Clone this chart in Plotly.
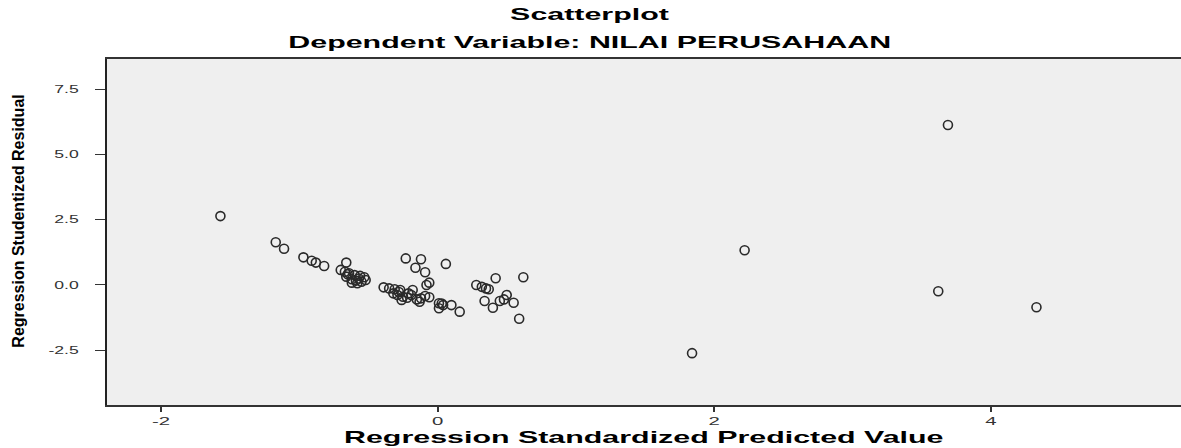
import plotly.graph_objects as go

# Regression standardized predicted value (x) and studentized residual (y)
x_pred = [-1.57, 3.69, 2.22, 1.84, 3.62, 4.33,
          -1.17, -1.11, -0.97, -0.91, -0.88, -0.82, -0.66, -0.70, -0.67, -0.64,
          -0.60, -0.56, -0.53, -0.66, -0.62, -0.59, -0.55, -0.52, -0.58, -0.62,
          -0.57, -0.65, -0.39, -0.23, -0.12, -0.16, -0.09, 0.06, -0.06, -0.08,
          -0.35, -0.31, -0.27, -0.32, -0.29, -0.25, -0.21, -0.26, -0.19, -0.18,
          -0.15, -0.12, -0.09, -0.06, -0.13, -0.28, -0.22, 0.01, 0.04, 0.01,
          0.10, 0.03, 0.16, 0.28, 0.32, 0.35, 0.37, 0.42, 0.62, 0.34, 0.40,
          0.45, 0.50, 0.48, 0.55, 0.59]
y_resid = [2.63, 6.12, 1.32, -2.62, -0.25, -0.86,
           1.63, 1.38, 1.05, 0.92, 0.85, 0.72, 0.85, 0.57, 0.50, 0.44,
           0.37, 0.34, 0.29, 0.31, 0.21, 0.16, 0.12, 0.18, 0.06, 0.08,
           0.24, 0.40, -0.10, 1.01, 0.98, 0.65, 0.48, 0.80, 0.08, -0.01,
           -0.14, -0.17, -0.20, -0.33, -0.39, -0.46, -0.33, -0.58, -0.39, -0.20,
           -0.56, -0.52, -0.43, -0.48, -0.65, -0.28, -0.50, -0.71, -0.78, -0.90,
           -0.78, -0.72, -1.03, -0.01, -0.08, -0.14, -0.17, 0.25, 0.29, -0.62, -0.88,
           -0.62, -0.39, -0.56, -0.69, -1.30]

x_tick_vals = [-2, 0, 2, 4]
x_tick_text = ["-2", "0", "2", "4"]
y_tick_vals = [-2.5, 0.0, 2.5, 5.0, 7.5]
y_tick_text = ["-2.5", "0.0", "2.5", "5.0", "7.5"]

title_1 = "Scatterplot"
title_2 = "Dependent Variable: NILAI PERUSAHAAN"
x_title = "Regression Standardized Predicted Value"
y_title = "Regression Studentized Residual"

FONT = "Liberation Sans, Arial, sans-serif"

fig = go.Figure(go.Scatter(
    x=x_pred, y=y_resid, mode="markers",
    marker=dict(symbol="circle-open", size=9, color="#2a2a2a",
                line=dict(width=1.6, color="#2a2a2a")),
    showlegend=False, hoverinfo="skip"))

fig.update_layout(
    width=1181, height=448,
    margin=dict(l=107, r=0, t=59, b=43, pad=0),
    paper_bgcolor="white", plot_bgcolor="#efefef",
    xaxis=dict(range=[-2.39, 5.375], tickvals=x_tick_vals, ticktext=x_tick_text,
               showgrid=False, zeroline=False, showline=True, linecolor="#333",
               linewidth=2, mirror=True, ticks="outside", ticklen=5, tickwidth=2,
               tickcolor="#333", fixedrange=True,
               tickfont=dict(family=FONT, size=11, color="#333")),
    yaxis=dict(range=[-4.607, 8.65], tickvals=y_tick_vals, ticktext=y_tick_text,
               showgrid=False, zeroline=False, showline=True, linecolor="#222",
               linewidth=2, mirror=False, ticks="outside", ticklen=10, tickwidth=1,
               tickcolor="#333", ticklabelstandoff=14, fixedrange=True,
               tickfont=dict(family=FONT, size=11, color="#333")),
    annotations=[
        dict(text="<b>%s</b>" % title_1, x=0.4497, y=1.128, xref="paper", yref="paper",
             showarrow=False, xanchor="center", yanchor="middle",
             font=dict(family=FONT, size=16, color="black")),
        dict(text="<b>%s</b>" % title_2, x=0.4497, y=1.049, xref="paper", yref="paper",
             showarrow=False, xanchor="center", yanchor="middle",
             font=dict(family=FONT, size=16, color="black")),
        dict(text="<b>%s</b>" % x_title, x=0.5, y=-0.095, xref="paper", yref="paper",
             showarrow=False, xanchor="center", yanchor="middle",
             font=dict(family=FONT, size=16, color="black")),
        dict(text="<b>%s</b>" % y_title, x=-0.0819, y=0.53, xref="paper", yref="paper",
             showarrow=False, xanchor="center", yanchor="middle", textangle=-90,
             font=dict(family=FONT, size=16, color="black")),
    ],
)

# The reference image is stretched horizontally; widen the text glyphs the same way.
post = """
document.body.style.margin = '0';
document.body.style.padding = '0';
document.body.style.overflow = 'hidden';
var gd = document.getElementById('{plot_id}');
function widen(el, anchor, S) {
  var r = el.getBoundingClientRect();
  var p = el.parentNode.getScreenCTM();
  var sx = anchor === 'right' ? r.right : (r.left + r.width / 2);
  var cx = (sx - p.e) / p.a;
  var old = el.getAttribute('transform') || '';
  el.setAttribute('transform', 'translate(' + cx + ',0) scale(' + S + ',1) translate(' + (-cx) + ',0) ' + old);
}
var ann = gd.querySelectorAll('text.annotation-text');
ann.forEach(function(el, i){ widen(el, 'center', i === 3 ? 1.55 : 1.9); });
gd.querySelectorAll('g.xtick text').forEach(function(el){ widen(el, 'center', 1.85); });
gd.querySelectorAll('g.ytick text').forEach(function(el){ widen(el, 'right', 1.6); });
"""

fig.write_html("out.html", post_script=post, config={"displayModeBar": False, "staticPlot": True})
